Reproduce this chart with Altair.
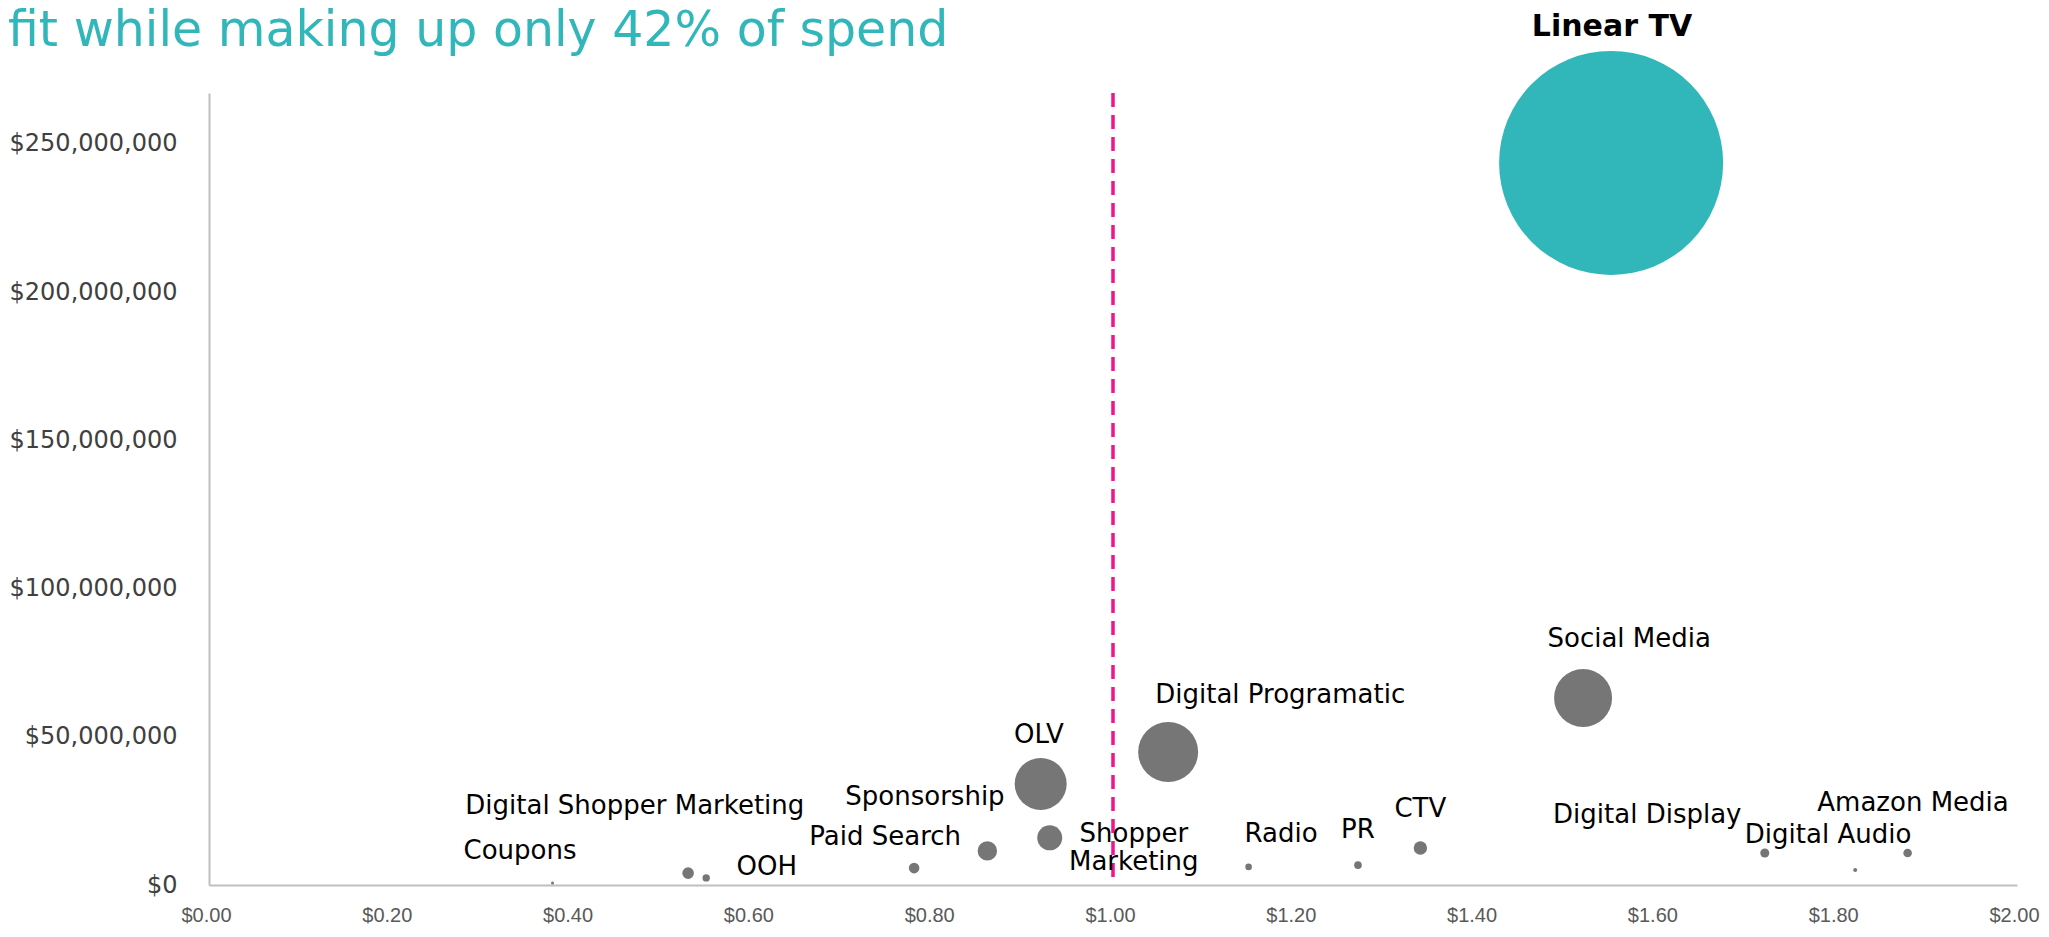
import altair as alt
import pandas as pd

# ---- data ----
channels = ["Linear TV", "Social Media", "Digital Programatic", "OLV", "Sponsorship",
            "Shopper Marketing", "Paid Search", "Digital Shopper Marketing", "OOH", "Coupons",
            "Radio", "PR", "CTV", "Digital Display", "Digital Audio", "Amazon Media"]
label_text = ["Linear TV", "Social Media", "Digital Programatic", "OLV", "Sponsorship",
              "Shopper\nMarketing", "Paid Search", "Digital Shopper Marketing", "OOH", "Coupons",
              "Radio", "PR", "CTV", "Digital Display", "Digital Audio", "Amazon Media"]
cost_per = [1.551, 1.520, 1.061, 0.920, 0.861, 0.930, 0.780, 0.530, 0.550, 0.380,
            1.150, 1.271, 1.340, 1.721, 1.821, 1.879]
value = [243.6e6, 63.1e6, 44.9e6, 34.1e6, 11.5e6, 15.9e6, 5.7e6, 4.0e6, 2.4e6, 0.7e6,
         6.1e6, 6.7e6, 12.5e6, 10.8e6, 5.1e6, 10.8e6]
spend = [56.0, 14.5, 15.0, 13.0, 4.85, 6.25, 2.65, 2.9, 1.85, 0.75,
         1.65, 1.9, 3.35, 2.25, 1.0, 2.15]
label_x = [1.552, 1.571, 1.185, 0.918, 0.792, 1.023, 0.748, 0.471, 0.617, 0.344,
           1.186, 1.271, 1.340, 1.591, 1.791, 1.885]
label_y = [289.5e6, 83.0e6, 64.1e6, 50.6e6, 29.7e6, 17.2e6, 16.2e6, 26.7e6, 6.1e6, 11.5e6,
           17.2e6, 18.6e6, 25.6e6, 23.6e6, 16.9e6, 27.7e6]
threshold = [1.0]
x_ticks = [0.0, 0.2, 0.4, 0.6, 0.8, 1.0, 1.2, 1.4, 1.6, 1.8, 2.0]
y_ticks = [0, 50e6, 100e6, 150e6, 200e6, 250e6]

title_text = ["fit while making up only 42% of spend"]

TEAL = "#31b6ba"
GRAY = "#767676"
PINK = "#ef168c"
AXIS = "#bfbfbf"

df = pd.DataFrame({
    "channel": channels, "label": label_text, "cost": cost_per, "value": value,
    "spend": spend, "lx": label_x, "ly": label_y,
})

xscale = alt.Scale(domain=[0, 2], nice=False, zero=False)
yscale = alt.Scale(domain=[0, 267.2e6], nice=False)

xaxis = alt.Axis(values=x_ticks, format="$.2f", title=None, grid=False, ticks=False,
                 domainColor=AXIS, domainWidth=2, labelFont="Liberation Sans",
                 labelFontSize=20, labelColor="#595959", labelPadding=20,
                 labelFlush=False, labelOffset=-3)
yaxis = alt.Axis(values=y_ticks, format="$,.0f", title=None, grid=False, ticks=False,
                 domainColor=AXIS, domainWidth=2, labelFont="DejaVu Sans",
                 labelFontSize=24, labelColor="#404040", labelPadding=32,
                 labelFlush=False)

base = alt.Chart(df)

rule = alt.Chart(pd.DataFrame({"t": threshold})).mark_rule(
    color=PINK, strokeWidth=3.5, strokeDash=[14, 8]
).encode(x=alt.X("t:Q", scale=xscale, axis=xaxis))

bubbles = base.mark_circle(opacity=1).encode(
    x=alt.X("cost:Q", scale=xscale, axis=xaxis),
    y=alt.Y("value:Q", scale=yscale, axis=yaxis),
    size=alt.Size("spend:Q", scale=alt.Scale(type="pow", exponent=2, domain=[0, 56],
                                              range=[0, 50176]), legend=None),
    color=alt.condition(alt.datum.channel == "Linear TV", alt.value(TEAL), alt.value(GRAY)),
)

labels = base.transform_filter(alt.datum.channel != "Linear TV").mark_text(
    font="DejaVu Sans", fontSize=26, color="#000000", baseline="middle", align="center",
    lineBreak="\n", lineHeight=28
).encode(
    x=alt.X("lx:Q", scale=xscale),
    y=alt.Y("ly:Q", scale=yscale),
    text="label:N",
)

top_label = base.transform_filter(alt.datum.channel == "Linear TV").mark_text(
    font="DejaVu Sans", fontSize=30, fontWeight="bold", color="#000000",
    baseline="middle", align="center"
).encode(
    x=alt.X("lx:Q", scale=xscale),
    y=alt.Y("ly:Q", scale=yscale),
    text="label:N",
)

title = alt.Chart(pd.DataFrame({"t": title_text})).mark_text(
    font="DejaVu Sans", fontSize=49, color=TEAL, align="left", baseline="alphabetic"
).encode(x=alt.value(-201), y=alt.value(-47), text="t:N")

chart = alt.layer(rule, bubbles, labels, top_label, title).properties(
    width=1808, height=792,
    autosize=alt.AutoSizeParams(type="none"),
    padding={"left": 201, "top": 85, "right": 24, "bottom": 40},
    background="white",
).configure_view(stroke=None)

chart.save("out.html", embed_options={"renderer": "svg", "actions": False})
